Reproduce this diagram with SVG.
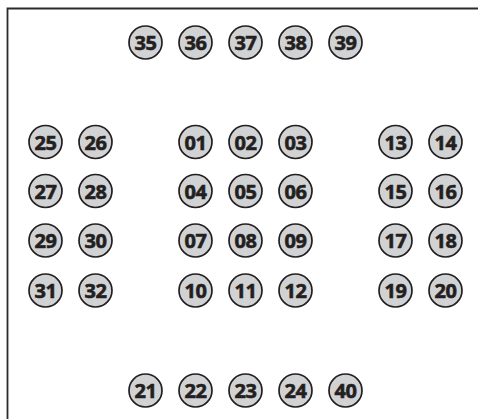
<svg xmlns="http://www.w3.org/2000/svg" width="478" height="419" viewBox="0 0 478 419">
<style>
.n circle{fill:#d1d2d4;stroke:#231f20;stroke-width:1.7}
.n text{font-family:"Open Sans","Noto Sans",sans-serif;font-weight:bold;font-size:20px;fill:#231f20;stroke:#231f20;stroke-width:0.6;text-anchor:middle;dominant-baseline:central;letter-spacing:-0.5px}
</style>
<rect width="478" height="419" fill="#fff"/>
<path d="M7.5 425V8.5H480" fill="none" stroke="#2b2b2b" stroke-width="1.8"/>
<g id="connectors"></g>
<g id="n35" class="n"><circle cx="145.5" cy="42.5" r="16.5"/><text x="145.5" y="42.5">35</text></g>
<g id="n36" class="n"><circle cx="195.5" cy="42.5" r="16.5"/><text x="195.5" y="42.5">36</text></g>
<g id="n37" class="n"><circle cx="245.5" cy="42.5" r="16.5"/><text x="245.5" y="42.5">37</text></g>
<g id="n38" class="n"><circle cx="295.5" cy="42.5" r="16.5"/><text x="295.5" y="42.5">38</text></g>
<g id="n39" class="n"><circle cx="345.5" cy="42.5" r="16.5"/><text x="345.5" y="42.5">39</text></g>
<g id="n25" class="n"><circle cx="45.5" cy="142" r="16.5"/><text x="45.5" y="142">25</text></g>
<g id="n26" class="n"><circle cx="95.5" cy="142" r="16.5"/><text x="95.5" y="142">26</text></g>
<g id="n01" class="n"><circle cx="195.5" cy="142" r="16.5"/><text x="195.5" y="142">01</text></g>
<g id="n02" class="n"><circle cx="245.5" cy="142" r="16.5"/><text x="245.5" y="142">02</text></g>
<g id="n03" class="n"><circle cx="295.5" cy="142" r="16.5"/><text x="295.5" y="142">03</text></g>
<g id="n13" class="n"><circle cx="395.5" cy="142" r="16.5"/><text x="395.5" y="142">13</text></g>
<g id="n14" class="n"><circle cx="445.5" cy="142" r="16.5"/><text x="445.5" y="142">14</text></g>
<g id="n27" class="n"><circle cx="45.5" cy="191" r="16.5"/><text x="45.5" y="191">27</text></g>
<g id="n28" class="n"><circle cx="95.5" cy="191" r="16.5"/><text x="95.5" y="191">28</text></g>
<g id="n04" class="n"><circle cx="195.5" cy="191" r="16.5"/><text x="195.5" y="191">04</text></g>
<g id="n05" class="n"><circle cx="245.5" cy="191" r="16.5"/><text x="245.5" y="191">05</text></g>
<g id="n06" class="n"><circle cx="295.5" cy="191" r="16.5"/><text x="295.5" y="191">06</text></g>
<g id="n15" class="n"><circle cx="395.5" cy="191" r="16.5"/><text x="395.5" y="191">15</text></g>
<g id="n16" class="n"><circle cx="445.5" cy="191" r="16.5"/><text x="445.5" y="191">16</text></g>
<g id="n29" class="n"><circle cx="45.5" cy="240.5" r="16.5"/><text x="45.5" y="240.5">29</text></g>
<g id="n30" class="n"><circle cx="95.5" cy="240.5" r="16.5"/><text x="95.5" y="240.5">30</text></g>
<g id="n07" class="n"><circle cx="195.5" cy="240.5" r="16.5"/><text x="195.5" y="240.5">07</text></g>
<g id="n08" class="n"><circle cx="245.5" cy="240.5" r="16.5"/><text x="245.5" y="240.5">08</text></g>
<g id="n09" class="n"><circle cx="295.5" cy="240.5" r="16.5"/><text x="295.5" y="240.5">09</text></g>
<g id="n17" class="n"><circle cx="395.5" cy="240.5" r="16.5"/><text x="395.5" y="240.5">17</text></g>
<g id="n18" class="n"><circle cx="445.5" cy="240.5" r="16.5"/><text x="445.5" y="240.5">18</text></g>
<g id="n31" class="n"><circle cx="45.5" cy="290.5" r="16.5"/><text x="45.5" y="290.5">31</text></g>
<g id="n32" class="n"><circle cx="95.5" cy="290.5" r="16.5"/><text x="95.5" y="290.5">32</text></g>
<g id="n10" class="n"><circle cx="195.5" cy="290.5" r="16.5"/><text x="195.5" y="290.5">10</text></g>
<g id="n11" class="n"><circle cx="245.5" cy="290.5" r="16.5"/><text x="245.5" y="290.5">11</text></g>
<g id="n12" class="n"><circle cx="295.5" cy="290.5" r="16.5"/><text x="295.5" y="290.5">12</text></g>
<g id="n19" class="n"><circle cx="395.5" cy="290.5" r="16.5"/><text x="395.5" y="290.5">19</text></g>
<g id="n20" class="n"><circle cx="445.5" cy="290.5" r="16.5"/><text x="445.5" y="290.5">20</text></g>
<g id="n21" class="n"><circle cx="145.5" cy="390.5" r="16.5"/><text x="145.5" y="390.5">21</text></g>
<g id="n22" class="n"><circle cx="195.5" cy="390.5" r="16.5"/><text x="195.5" y="390.5">22</text></g>
<g id="n23" class="n"><circle cx="245.5" cy="390.5" r="16.5"/><text x="245.5" y="390.5">23</text></g>
<g id="n24" class="n"><circle cx="295.5" cy="390.5" r="16.5"/><text x="295.5" y="390.5">24</text></g>
<g id="n40" class="n"><circle cx="345.5" cy="390.5" r="16.5"/><text x="345.5" y="390.5">40</text></g>
</svg>
